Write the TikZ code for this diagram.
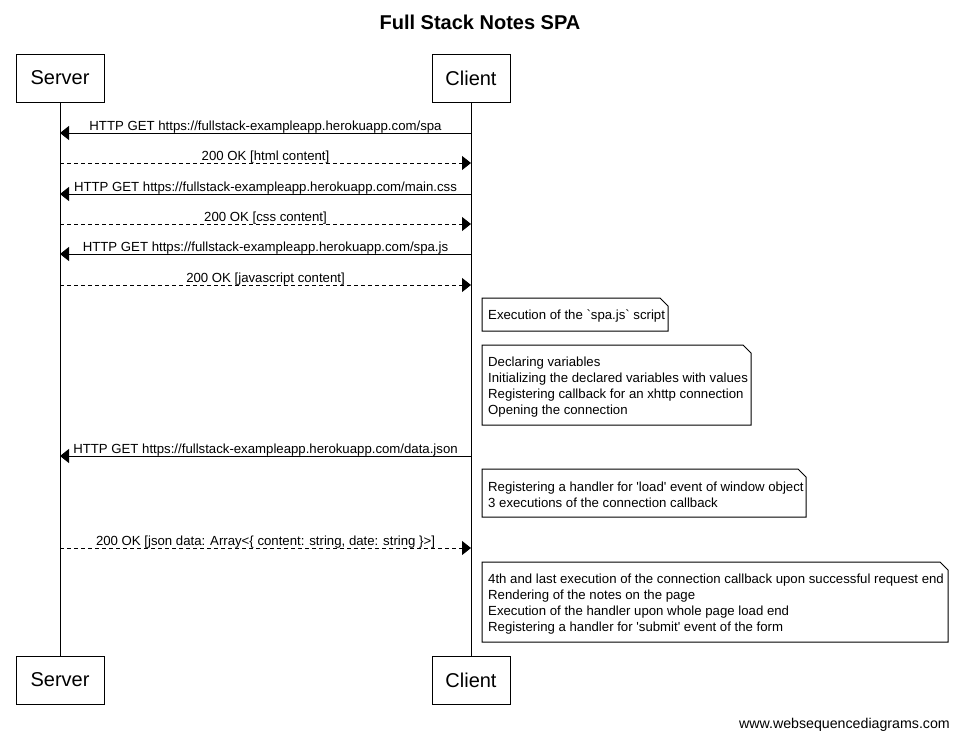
\documentclass[tikz,border=0pt]{standalone}
\usepackage{fontspec}
\setmainfont{Liberation Sans}
\usetikzlibrary{arrows.meta,calc,positioning}

\tikzstyle{actor} = [rectangle, minimum height=48, text centered, draw=black, line width=1pt, font=\fontsize{20}{24}\selectfont]
\tikzstyle{notetext} = [anchor=west, inner sep=0, align=left, font=\fontsize{13.2}{16}\selectfont]
\tikzstyle{msg} = [midway, anchor=base, yshift=3pt, inner sep=0, font=\fontsize{13.2}{16}\selectfont]
\tikzstyle{req} = [line width=1pt, -{Triangle[length=9pt,width=14pt]}]
\tikzstyle{resp} = [req, dash pattern=on 4pt off 3pt]
\tikzstyle{fold} = [line width=1pt, fill=white]

\newcommand{\notebox}[4]{\draw[fold] (#1,#2) -- (#3-8,#2) -- (#3,#2+8) -- (#3,#4) -- (#1,#4) -- cycle;}

\begin{document}
\begin{tikzpicture}[x=1pt, y=-1pt, node distance=411pt]
\fill[white] (0,0) rectangle (958,739);
\useasboundingbox (0,0) rectangle (958,739);

% Title
\node (title) [anchor=base, font=\fontsize{20}{24}\selectfont\bfseries] at (480,29) {Full Stack Notes SPA};

% Nodes
\node (srvtop) [actor, minimum width=88] at (60,78) {Server};
\node (clitop) [actor, minimum width=78, right of=srvtop] {Client};
\node (srvbot) [actor, minimum width=88] at (60,680) {Server};
\node (clibot) [actor, minimum width=78, right of=srvbot] {Client};

% Lifelines
\draw [line width=1pt] (srvtop) -- (srvbot);
\draw [line width=1pt] (clitop) -- (clibot);

% Message ends
\foreach \i/\y in {1/133,2/163,3/194,4/224,5/254,6/285,7/456,8/548} {
  \coordinate (s\i) at (60,\y);
  \coordinate (c\i) at (471,\y);
}

% Arrows
\draw [req] (c1) -- node[msg] {HTTP GET https://fullstack-exampleapp.herokuapp.com/spa} (s1);
\draw [resp] (s2) -- node[msg] {200 OK [html content]} (c2);
\draw [req] (c3) -- node[msg] {HTTP GET https://fullstack-exampleapp.herokuapp.com/main.css} (s3);
\draw [resp] (s4) -- node[msg] {200 OK [css content]} (c4);
\draw [req] (c5) -- node[msg] {HTTP GET https://fullstack-exampleapp.herokuapp.com/spa.js} (s5);
\draw [resp] (s6) -- node[msg] {200 OK [javascript content]} (c6);
\draw [req] (c7) -- node[msg] {HTTP GET https://fullstack-exampleapp.herokuapp.com/data.json} (s7);
\draw [resp] (s8) -- node[msg] {200 OK [json data: Array<\{ content: string, date: string \}>]} (c8);

% Notes
\notebox{482}{298}{668}{331}
\node (note1) [notetext] at (488,316.5) {Execution of the \textasciigrave spa.js\textasciigrave{} script};
\notebox{482}{345}{751}{425}
\node (note2) [notetext] at (488,387) {Declaring variables\\Initializing the declared variables with values\\Registering callback for an xhttp connection\\Opening the connection};
\notebox{482}{469}{806}{517}
\node (note3) [notetext] at (488,495) {Registering a handler for \textquotesingle load\textquotesingle{} event of window object\\3 executions of the connection callback};
\notebox{482}{562}{948}{642}
\node (note4) [notetext] at (488,604) {4th and last execution of the connection callback upon successful request end\\Rendering of the notes on the page\\Execution of the handler upon whole page load end\\Registering a handler for \textquotesingle submit\textquotesingle{} event of the form};

% Footer
\node (footer) [anchor=base east, inner sep=0, font=\fontsize{14.2}{16}\selectfont] at (950,728.5) {www.websequencediagrams.com};

\end{tikzpicture}
\end{document}
